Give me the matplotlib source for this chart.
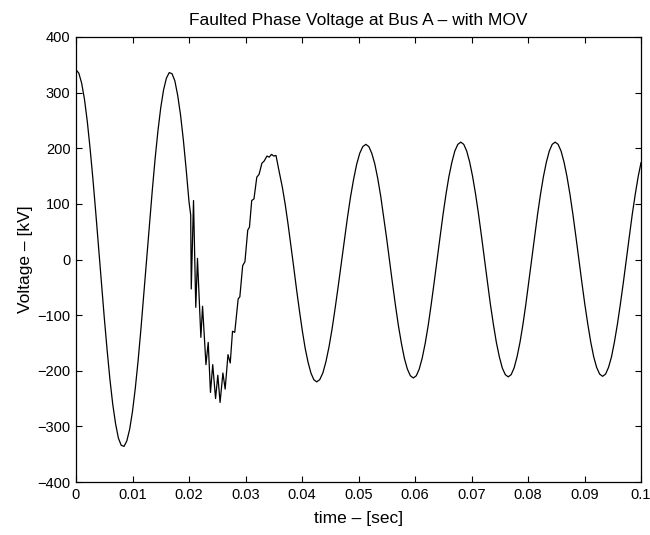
import matplotlib
matplotlib.use("Agg")
import matplotlib.pyplot as plt

plt.rcParams['font.family'] = ['Liberation Sans', 'DejaVu Sans']

# ---- data (time in s, voltage in kV) ----
t_pre = [0.0000, 0.0005, 0.0010, 0.0015, 0.0020, 0.0025, 0.0030, 0.0035, 0.0040, 0.0045,
         0.0050, 0.0055, 0.0060, 0.0065, 0.0070, 0.0075, 0.0080, 0.0085, 0.0090, 0.0095,
         0.0100, 0.0105, 0.0110, 0.0115, 0.0120, 0.0125, 0.0130, 0.0135, 0.0140, 0.0145,
         0.0150, 0.0155, 0.0160, 0.0165, 0.0170, 0.0175, 0.0180, 0.0185, 0.0190, 0.0195,
         0.0200, 0.0203]
v_pre = [341, 335, 317, 288, 248, 199, 144, 84, 21, -42,
         -104, -162, -215, -260, -295, -321, -334, -336, -326, -305,
         -273, -231, -181, -124, -63, 0, 63, 124, 181, 231,
         273, 305, 326, 336, 334, 321, 295, 260, 215, 162,
         104, 80]

t_fault = [0.0204, 0.0208, 0.0212, 0.0215, 0.0221, 0.0224, 0.0230, 0.0234, 0.0238, 0.0242,
           0.0247, 0.0251, 0.0255, 0.0260, 0.0264, 0.0269, 0.0273, 0.0277, 0.0281, 0.0287,
           0.0290, 0.0295, 0.0299, 0.0304, 0.0307, 0.0311, 0.0315, 0.0320, 0.0324, 0.0329,
           0.0333, 0.0338, 0.0342, 0.0346, 0.0350, 0.0354, 0.0358]
v_fault = [-53, 106, -86, 2, -140, -84, -189, -149, -239, -189,
           -250, -208, -257, -204, -233, -171, -186, -129, -131, -71,
           -67, -11, -4, 53, 58, 106, 109, 148, 153, 173,
           177, 186, 184, 189, 186, 187, 166]

t_post = [0.03652, 0.03703, 0.03754, 0.03804, 0.03855, 0.03905, 0.03956, 0.04007, 0.04057, 0.04108,
          0.04158, 0.04209, 0.04260,
          0.04314, 0.04369, 0.04423, 0.04478, 0.04532, 0.04586, 0.04641, 0.04695, 0.04750, 0.04804,
          0.04858, 0.04913, 0.04967, 0.05022, 0.05076, 0.05130,
          0.05183, 0.05235, 0.05288, 0.05340, 0.05393, 0.05445, 0.05498, 0.05550, 0.05603, 0.05655,
          0.05708, 0.05760, 0.05813, 0.05865, 0.05918, 0.05970,
          0.06023, 0.06075, 0.06128, 0.06180, 0.06233, 0.06285, 0.06338, 0.06390, 0.06443, 0.06495,
          0.06548, 0.06600, 0.06653, 0.06705, 0.06758, 0.06810,
          0.06863, 0.06915, 0.06968, 0.07020, 0.07073, 0.07125, 0.07178, 0.07230, 0.07283, 0.07335,
          0.07388, 0.07440, 0.07493, 0.07545, 0.07598, 0.07650,
          0.07702, 0.07754, 0.07806, 0.07858, 0.07910, 0.07961, 0.08013, 0.08065, 0.08117, 0.08169,
          0.08221, 0.08273, 0.08325, 0.08377, 0.08428, 0.08480,
          0.08533, 0.08585, 0.08638, 0.08690, 0.08743, 0.08795, 0.08848, 0.08900, 0.08953, 0.09005,
          0.09058, 0.09110, 0.09163, 0.09215, 0.09268, 0.09320,
          0.09373, 0.09425, 0.09478, 0.09530, 0.09583, 0.09635, 0.09688, 0.09740, 0.09793, 0.09845,
          0.09898, 0.09950, 0.10000]
v_post = [130, 99, 63, 25, -15, -55, -93, -129, -160, -185,
          -204, -216, -220,
          -216, -204, -184, -157, -125, -88, -48, -7, 35, 75,
          112, 144, 171, 191, 203, 207,
          203, 191, 172, 146, 114, 77, 38, -3, -44, -83,
          -120, -151, -178, -197, -209, -213,
          -209, -197, -177, -151, -119, -82, -42, -1, 40, 80,
          117, 149, 175, 195, 207, 211,
          207, 195, 175, 149, 117, 81, 41, 0, -41, -81,
          -117, -149, -175, -195, -207, -211,
          -207, -195, -175, -149, -117, -81, -41, 0, 41, 81,
          117, 149, 175, 195, 207, 211,
          207, 195, 175, 149, 117, 81, 41, 0, -41, -80,
          -116, -148, -175, -194, -206, -210,
          -206, -194, -175, -148, -116, -80, -41, 0, 41, 81,
          117, 149, 174]

x_ticks = [0, 0.01, 0.02, 0.03, 0.04, 0.05, 0.06, 0.07, 0.08, 0.09, 0.1]
x_tick_labels = ['0', '0.01', '0.02', '0.03', '0.04', '0.05', '0.06', '0.07', '0.08', '0.09', '0.1']
y_ticks = [-400, -300, -200, -100, 0, 100, 200, 300, 400]

title = 'Faulted Phase Voltage at Bus A \u2013 with MOV'
xlabel = 'time \u2013 [sec]'
ylabel = 'Voltage \u2013 [kV]'

t_all = t_pre + t_fault + t_post
v_all = v_pre + v_fault + v_post

fig = plt.figure(figsize=(6.5, 5.35), dpi=100)
ax = fig.add_axes([76 / 650, 1 - 482 / 535, (641 - 76) / 650, (482 - 37) / 535])
ax.plot(t_all, v_all, color='black', linewidth=0.9)

ax.set_xlim(0, 0.1)
ax.set_ylim(-400, 400)
ax.set_xticks(x_ticks)
ax.set_xticklabels(x_tick_labels)
ax.set_yticks(y_ticks)
ax.tick_params(direction='in', top=True, right=True, length=4, width=0.8,
               labelsize=10.5, pad=4)
for s in ax.spines.values():
    s.set_linewidth(0.9)

ax.set_title(title, fontsize=12.5, pad=9)
ax.set_xlabel(xlabel, fontsize=12.5, labelpad=7)
ax.set_ylabel(ylabel, fontsize=12.5, labelpad=3)

fig.savefig('out.png', dpi=100)
